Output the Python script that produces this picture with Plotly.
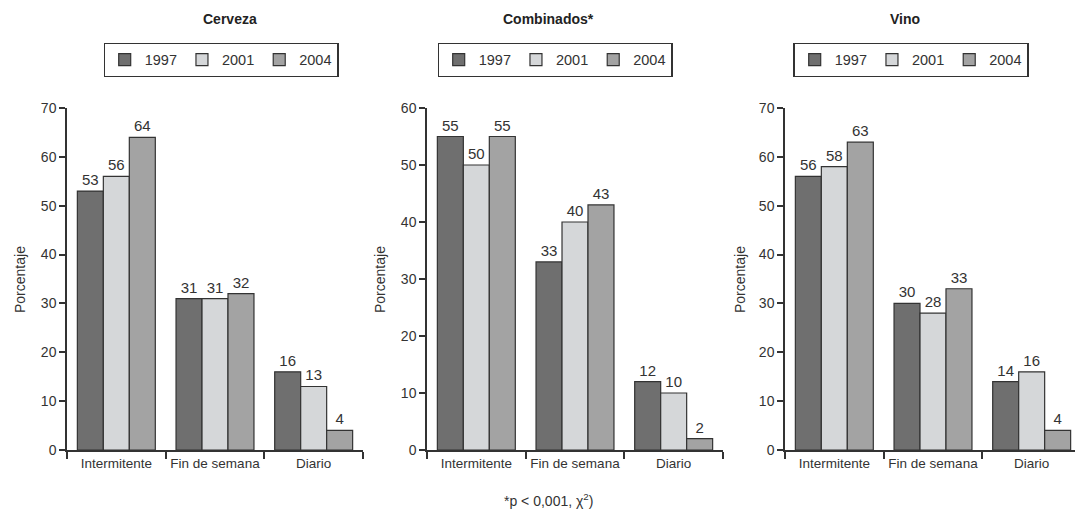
import plotly.graph_objects as go

categories = ["Intermitente", "Fin de semana", "Diario"]
years = ["1997", "2001", "2004"]

cerveza_1997 = [53, 31, 16]
cerveza_2001 = [56, 31, 13]
cerveza_2004 = [64, 32, 4]

combinados_1997 = [55, 33, 12]
combinados_2001 = [50, 40, 10]
combinados_2004 = [55, 43, 2]

vino_1997 = [56, 30, 14]
vino_2001 = [58, 28, 16]
vino_2004 = [63, 33, 4]

panel_titles = ["Cerveza", "Combinados*", "Vino"]
y_max = [70, 60, 70]
caption = "*p < 0,001, χ<sup>2</sup>)"

colors = ["#6f6f6f", "#d5d7d9", "#a3a3a3"]
FONT = "Liberation Sans, Arial, sans-serif"

panels = [
    [cerveza_1997, cerveza_2001, cerveza_2004],
    [combinados_1997, combinados_2001, combinados_2004],
    [vino_1997, vino_2001, vino_2004],
]

W, H = 1083, 519
OFF = 8  # page body margin: the figure is drawn 8px right/down of the window corner


def px_x(v):
    return (v - OFF) / W


def px_y(v):
    return 1 - (v - OFF) / H


# screen-pixel geometry of the three plotting areas
x_px = [(67, 363), (427, 723), (785, 1081)]
y_top, y_bot = 108, 450
legend_centers = [(221, 60), (555, 60), (911, 60)]
title_centers = [(230, 19), (548, 19), (905, 19)]
ytitle_x = [20, 380, 740]

fig = go.Figure()
layout = {}
annotations = []
for i, series in enumerate(panels):
    sfx = "" if i == 0 else str(i + 1)
    lg = "legend" if i == 0 else f"legend{i + 1}"
    for j, vals in enumerate(series):
        fig.add_trace(go.Bar(
            x=categories, y=vals, name=years[j],
            xaxis="x" + sfx, yaxis="y" + sfx, legend=lg,
            marker=dict(color=colors[j], line=dict(color="#333333", width=1.2)),
            text=[str(v) for v in vals], textposition="outside",
            textfont=dict(family=FONT, size=15, color="#333333"),
            cliponaxis=False,
        ))
    x0, x1 = x_px[i]
    layout["xaxis" + sfx] = dict(
        domain=[px_x(x0), px_x(x1)], anchor="y" + sfx, automargin=False,
        showline=True, linecolor="#333333", linewidth=1.5,
        ticks="outside", tickson="boundaries", ticklen=7, tickcolor="#333333", tickwidth=1.5,
        tickangle=0,
        tickfont=dict(family=FONT, size=13.5, color="#333333"),
        showgrid=False, zeroline=False, fixedrange=True,
    )
    layout["yaxis" + sfx] = dict(
        domain=[px_y(y_bot), px_y(y_top)], anchor="x" + sfx, automargin=False,
        range=[0, y_max[i]], dtick=10,
        showline=True, linecolor="#333333", linewidth=1.5,
        ticks="outside", ticklen=6, tickcolor="#333333", tickwidth=1.5,
        tickfont=dict(family=FONT, size=14, color="#333333"),
        showgrid=False, zeroline=False, fixedrange=True,
    )
    lx, ly = legend_centers[i]
    layout[lg] = dict(
        orientation="h", x=px_x(lx), y=px_y(ly), xanchor="center", yanchor="middle",
        bordercolor="#333333", borderwidth=1.2, bgcolor="white",
        font=dict(family=FONT, size=14.5, color="#333333"),
        itemclick=False, itemdoubleclick=False, tracegroupgap=0,
    )
    tx, ty = title_centers[i]
    annotations.append(dict(
        text=f"<b>{panel_titles[i]}</b>", x=px_x(tx), y=px_y(ty),
        xref="paper", yref="paper", showarrow=False, xanchor="center", yanchor="middle",
        font=dict(family=FONT, size=14, color="#222222"),
    ))
    annotations.append(dict(
        text="Porcentaje", x=px_x(ytitle_x[i]), y=px_y(280), textangle=-90,
        xref="paper", yref="paper", showarrow=False, xanchor="center", yanchor="middle",
        font=dict(family=FONT, size=14, color="#333333"),
    ))

annotations.append(dict(
    text=caption, x=px_x(548), y=px_y(500), xref="paper", yref="paper",
    showarrow=False, xanchor="center", yanchor="middle",
    font=dict(family=FONT, size=14, color="#333333"),
))

fig.update_layout(
    **layout,
    annotations=annotations,
    barmode="group", bargap=0.21, bargroupgap=0,
    width=W, height=H,
    margin=dict(l=0, r=0, t=0, b=0),
    paper_bgcolor="white", plot_bgcolor="white",
    font=dict(family=FONT, color="#333333"),
)

fig.write_html("out.html")
